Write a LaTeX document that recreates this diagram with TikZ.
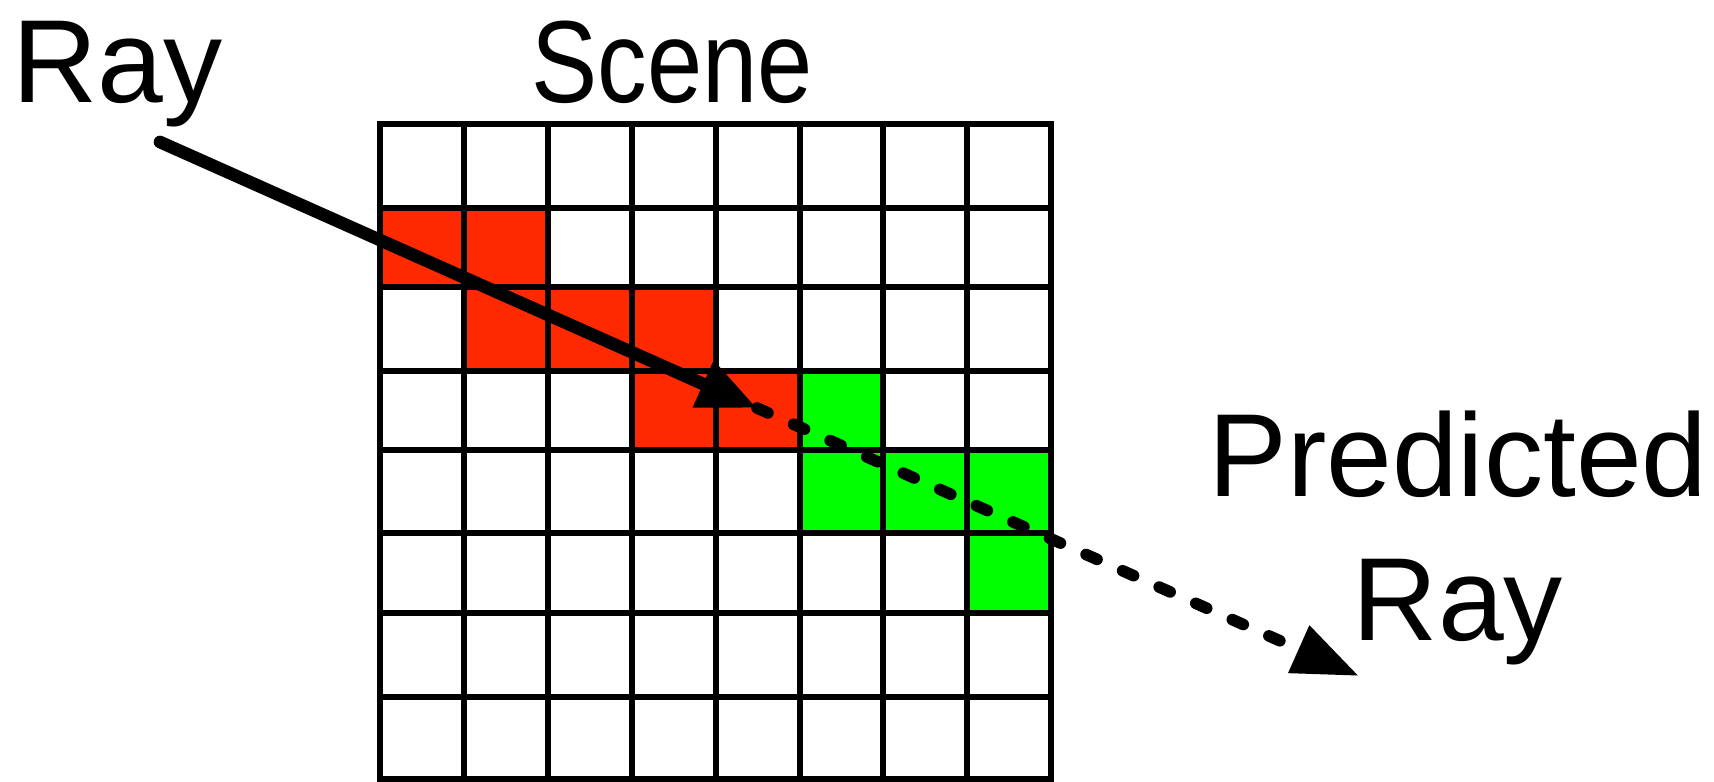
\documentclass[tikz,border=0pt]{standalone}
\usepackage{fontspec}
\usepackage{graphicx}
\setmainfont{Liberation Sans}
\usetikzlibrary{arrows.meta}
\definecolor{hitred}{RGB}{255,41,0}
\definecolor{predgreen}{RGB}{0,255,0}
\begin{document}
\begin{tikzpicture}[x=0.01cm,y=-0.01cm,
  hitcell/.style={fill=hitred},
  predcell/.style={fill=predgreen},
  gridline/.style={line width=1.7pt,line cap=rect},
  biglabel/.style={font=\fontsize{33.6}{40.7}\selectfont,inner sep=0pt},
  scenelabel/.style={font=\fontsize{33.2}{40}\selectfont,inner sep=0pt},
  rayline/.style={line width=3.6pt,line cap=round,-{Triangle[length=0.59cm,width=0.48cm]}},
  predline/.style={line width=3.3pt,line cap=round,dash pattern=on 0.12cm off 0.28cm,-{Triangle[length=0.66cm,width=0.49cm]}}]
\useasboundingbox (0,0) rectangle (1714,781);
% coloured cells
\fill[hitcell] (380,208) rectangle (548,287);
\fill[hitcell] (464,287) rectangle (716,371);
\fill[hitcell] (632,371) rectangle (800,450);
\fill[predcell] (800,371) rectangle (883,450);
\fill[predcell] (800,450) rectangle (1051,533);
\fill[predcell] (967,533) rectangle (1051,613);
% grid
\foreach \x in {380,464,548,632,716,800,883,967,1051}
  \draw[gridline] (\x,124) -- (\x,779);
\foreach \y in {124,208,287,371,450,533,613,697,779}
  \draw[gridline] (380,\y) -- (1051,\y);
% rays
\coordinate (raystart) at (160,142);
\coordinate (hit) at (757,408);
\coordinate (predend) at (1359,676);
\draw[rayline] (raystart) -- (hit);
\draw[predline] (hit) -- (predend);
% labels
\node[biglabel,anchor=base west] (raylbl) at (11.6,102) {Ray};
\node[scenelabel,anchor=base] (scenelbl) at (672,102) {\scalebox{0.85}[1]{Scene}};
\node[biglabel,align=center,anchor=base] (predlbl) at (1458,640) {Predicted\\Ray};
\end{tikzpicture}
\end{document}
